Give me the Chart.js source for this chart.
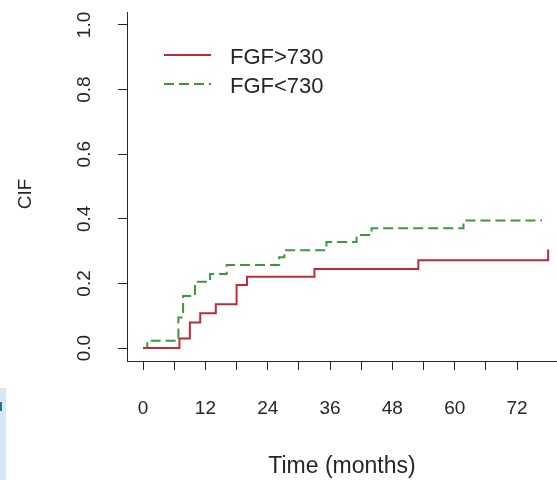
<!DOCTYPE html>
<html>
<head>
<meta charset="utf-8">
<script src="https://cdn.jsdelivr.net/npm/chart.js@4"></script>
<style>
  body { margin: 0; background: #fff; }
  #wrap { position: relative; width: 557px; height: 480px; }
  #edge { position: absolute; left: 0; top: 388px; width: 6px; height: 92px; background: #d6e8f3; }
  #edge span { position: absolute; left: 0; top: 14px; width: 2px; height: 9px; background: #2a6f8e; }
</style>
</head>
<body>
<div id="wrap">
  <canvas id="cifChart" width="557" height="480"></canvas>
  <div id="edge"><span></span></div>
</div>
<script>
// Cumulative incidence
const highTimes = [0, 7, 9, 11, 14, 18, 20, 33, 53, 78];
const highCif = [0, 0.030, 0.079, 0.108, 0.136, 0.195, 0.221, 0.245, 0.272, 0.305];
const lowTimes = [0, 0.8, 6.8, 7.7, 10, 12.9, 16.1, 26.2, 27.2, 35.3, 41.1, 44, 61.7, 76.8];
const lowCif = [0, 0.023, 0.095, 0.161, 0.205, 0.229, 0.257, 0.281, 0.303, 0.328, 0.350, 0.371, 0.395, 0.395];
const seriesNames = ['FGF>730', 'FGF<730'];

const xTicks = [0, 6, 12, 18, 24, 30, 36, 42, 48, 54, 60, 66, 72];
const xLabelTicks = [0, 12, 24, 36, 48, 60, 72];
const yTicks = [0, 0.2, 0.4, 0.6, 0.8, 1.0];
const yTickLabels = ['0.0', '0.2', '0.4', '0.6', '0.8', '1.0'];

const ink = '#262626';
const fontFamily = '"Liberation Sans", Arial, sans-serif';
Chart.defaults.font.family = fontFamily;
Chart.defaults.color = ink;

function toPoints(times, vals) {
    return times.map((t, i) => ({ x: t, y: vals[i] }));
}

// y tick labels are rotated like R does, so draw them here; also the axis title and legend
const extrasPlugin = {
    id: 'extras',
    afterDraw(chart) {
        const ctx = chart.ctx;
        const area = chart.chartArea;
        const yScale = chart.scales.y;
        ctx.save();
        ctx.fillStyle = ink;
        ctx.textAlign = 'center';
        ctx.textBaseline = 'middle';

        ctx.font = '19px ' + fontFamily;
        yTicks.forEach((v, i) => {
            ctx.save();
            ctx.translate(area.left - 42, yScale.getPixelForValue(v));
            ctx.rotate(-Math.PI / 2);
            ctx.fillText(yTickLabels[i], 0, 0);
            ctx.restore();
        });

        ctx.save();
        ctx.translate(area.left - 101, 194);
        ctx.rotate(-Math.PI / 2);
        ctx.fillText('CIF', 0, 0);
        ctx.restore();

        // legend
        ctx.font = '22px ' + fontFamily;
        ctx.textAlign = 'left';
        chart.data.datasets.forEach((ds, i) => {
            const ly = area.top + 43 + i * 29;
            ctx.strokeStyle = ds.borderColor;
            ctx.lineWidth = 2;
            ctx.setLineDash(ds.borderDash || []);
            ctx.beginPath();
            ctx.moveTo(area.left + 37, ly);
            ctx.lineTo(area.left + 84, ly);
            ctx.stroke();
            ctx.setLineDash([]);
            ctx.fillText(seriesNames[i], area.left + 103, ly + 3);
        });
        ctx.restore();
    }
};

new Chart(document.getElementById('cifChart'), {
    type: 'line',
    data: {
        datasets: [{
            label: seriesNames[0],
            data: toPoints(highTimes, highCif),
            borderColor: '#bf2a3a',
            borderWidth: 2,
            stepped: true,
            pointRadius: 0,
            fill: false
        }, {
            label: seriesNames[1],
            data: toPoints(lowTimes, lowCif),
            borderColor: '#3c9a3c',
            borderWidth: 2,
            borderDash: [10, 5],
            stepped: true,
            pointRadius: 0,
            fill: false
        }]
    },
    options: {
        responsive: false,
        devicePixelRatio: 1,
        animation: false,
        layout: { padding: { top: 12, right: 0, left: 0, bottom: 0 } },
        plugins: {
            legend: { display: false },
            tooltip: { enabled: false }
        },
        scales: {
            x: {
                type: 'linear',
                min: -3.1,
                max: 79.7,
                afterBuildTicks: (scale) => { scale.ticks = xTicks.map(v => ({ value: v })); },
                afterFit: (scale) => { scale.height = 119; },
                ticks: {
                    autoSkip: false,
                    maxRotation: 0,
                    padding: 27,
                    font: { size: 19 },
                    callback: (v) => xLabelTicks.includes(v) ? String(v) : ''
                },
                grid: { drawOnChartArea: false, drawTicks: true, tickLength: 9, color: ink },
                border: { display: true, color: ink, width: 1 },
                title: {
                    display: true,
                    text: 'Time (months)',
                    font: { size: 23 },
                    padding: { top: 0, bottom: 0 }
                }
            },
            y: {
                min: -0.04,
                max: 1.04,
                afterBuildTicks: (scale) => { scale.ticks = yTicks.map(v => ({ value: v })); },
                afterFit: (scale) => { scale.width = 127; },
                ticks: { display: false },
                grid: { drawOnChartArea: false, drawTicks: true, tickLength: 9, color: ink },
                border: { display: true, color: ink, width: 1 }
            }
        }
    },
    plugins: [extrasPlugin]
});
</script>
</body>
</html>
